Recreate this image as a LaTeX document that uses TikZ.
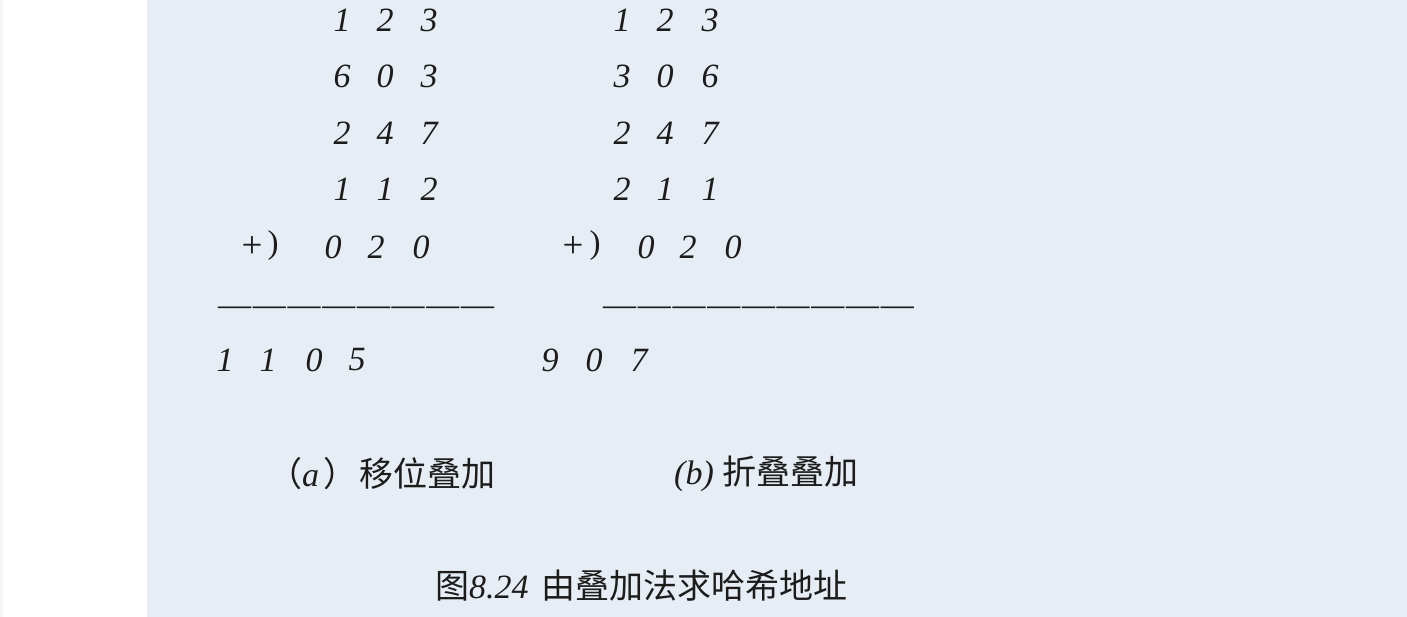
\documentclass[tikz,border=0pt]{standalone}
\usepackage{fontspec}
\setmainfont{Liberation Serif}
\newfontfamily\cjk{Noto Sans CJK SC}
\definecolor{panel}{HTML}{E6EDF4}
\definecolor{ink}{HTML}{1C1C1C}
\definecolor{edge}{HTML}{F3F5F7}
\newcommand{\dsh}{—\kern1.7pt}
\begin{document}
\begin{tikzpicture}[x=1pt,y=-1pt,
  dig/.style={font=\fontsize{34}{34}\selectfont\itshape, text=ink, inner sep=0pt},
  sym/.style={font=\fontsize{33}{33}\selectfont, text=ink, inner sep=0pt},
  plussym/.style={font=\fontsize{37}{37}\selectfont, text=ink, inner sep=0pt},
  rulestyle/.style={font=\fontsize{33}{33}\selectfont, text=ink, inner sep=0pt, anchor=west},
  lab/.style={font=\fontsize{34}{34}\selectfont, text=ink, inner sep=0pt, anchor=west},
  captxt/.style={font=\fontsize{34}{34}\selectfont, text=ink, inner sep=0pt, anchor=west}]
\useasboundingbox (0,0) rectangle (1407,617);
\fill[white] (0,0) rectangle (1407,617);
\fill[edge] (0,0) rectangle (3,617);
\fill[panel] (147,0) rectangle (1407,617);
% left column (a)
\foreach \r/\y/\a/\b/\c in {1/20/1/2/3, 2/76/6/0/3, 3/133/2/4/7, 4/189/1/1/2}{
  \node[dig] (la\r) at (342,\y) {\a};
  \node[dig] (lb\r) at (385,\y) {\b};
  \node[dig] (lc\r) at (429,\y) {\c};
}
\node[plussym] (lplus) at (252,247) {+};
\node[sym] (lparen) at (273,246) {)};
\node[dig] (la5) at (333,247) {0};
\node[dig] (lb5) at (376,247) {2};
\node[dig] (lc5) at (421,247) {0};
\node[rulestyle] (lrule) at (218,311) {\dsh\dsh\dsh\dsh\dsh\dsh\dsh—};
\node[dig] (ls1) at (225,360) {1};
\node[dig] (ls2) at (268,360) {1};
\node[dig] (ls3) at (314,360) {0};
\node[dig] (ls4) at (357,360) {5};
% right column (b)
\foreach \r/\y/\a/\b/\c in {1/20/1/2/3, 2/76/3/0/6, 3/133/2/4/7, 4/189/2/1/1}{
  \node[dig] (ra\r) at (622,\y) {\a};
  \node[dig] (rb\r) at (665,\y) {\b};
  \node[dig] (rc\r) at (710,\y) {\c};
}
\node[plussym] (rplus) at (573,247) {+};
\node[sym] (rparen) at (595,246) {)};
\node[dig] (ra5) at (646,247) {0};
\node[dig] (rb5) at (688,247) {2};
\node[dig] (rc5) at (733,247) {0};
\node[rulestyle] (rrule) at (603,311) {\dsh\dsh\dsh\dsh\dsh\dsh\dsh\dsh—};
\node[dig] (rs1) at (550,360) {9};
\node[dig] (rs2) at (594,360) {0};
\node[dig] (rs3) at (639,360) {7};
% labels
\node[lab] (laba) at (268,474) {{\cjk（}\textit{a}\kern4pt{\cjk）}\kern2pt{\cjk 移位叠加}};
\node[lab] (labb) at (674,474) {\textit{(b)} {\cjk 折叠叠加}};
\node[captxt] (caption) at (435,586) {{\cjk 图}\textit{8.24} \kern4pt{\cjk 由叠加法求哈希地址}};
\end{tikzpicture}
\end{document}
